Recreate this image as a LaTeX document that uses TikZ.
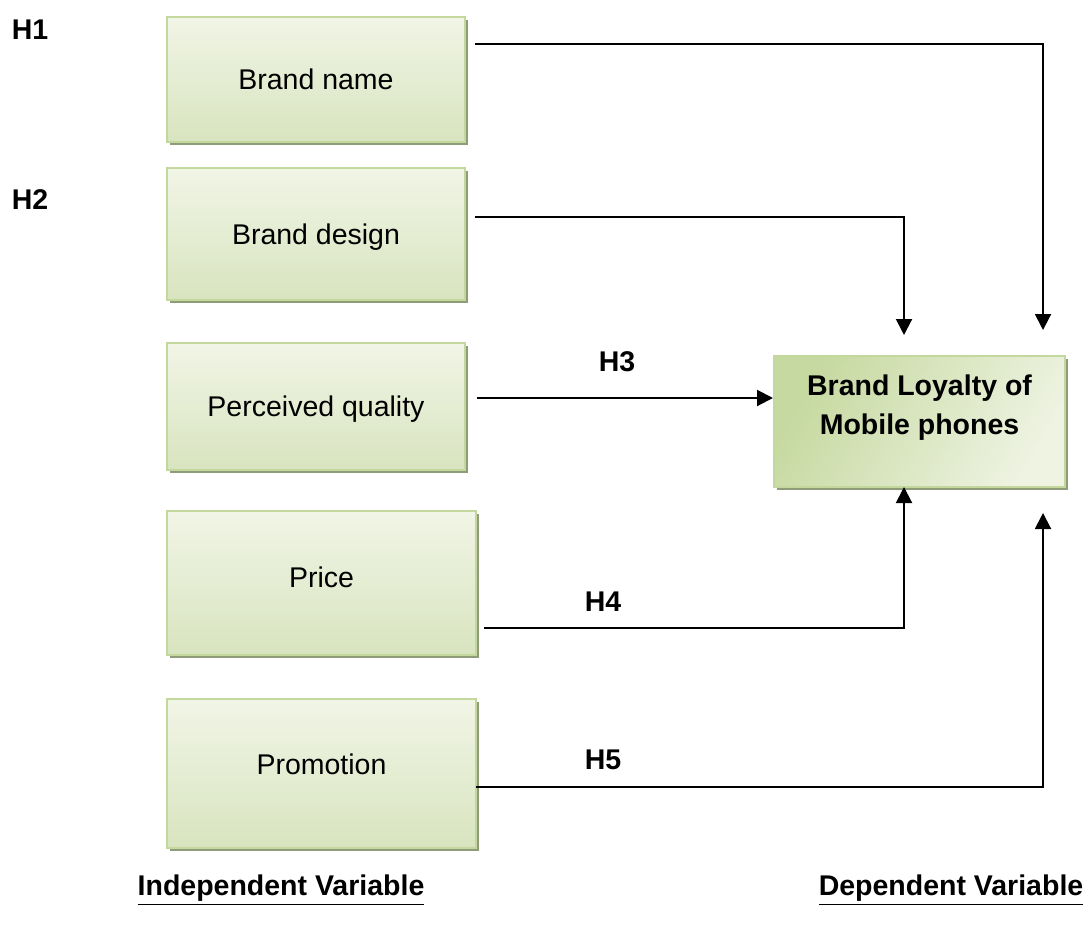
\documentclass[tikz,border=0pt]{standalone}
\usepackage{fontspec}
\setmainfont{Liberation Sans}
\usetikzlibrary{arrows.meta,shadows}
\definecolor{boxtop}{HTML}{F1F5E6}
\definecolor{boxbot}{HTML}{D8E4BF}
\definecolor{boxline}{HTML}{C4D89E}
\definecolor{shadowc}{HTML}{8E9C7A}
\definecolor{tgdark}{HTML}{C6D9A0}
\definecolor{tglight}{HTML}{EEF3E2}
\tikzset{
  varbox/.style={rectangle, draw=boxline, line width=1pt,
    top color=boxtop, bottom color=boxbot,
    drop shadow={shadow xshift=1.6pt, shadow yshift=-1.6pt, fill=shadowc, opacity=1},
    text height=10.5pt, text depth=0.5pt, inner sep=0pt},
  targetbox/.style={rectangle, draw=boxline, line width=1pt,
    shading=axis, left color=tgdark, right color=tglight, shading angle=60,
    drop shadow={shadow xshift=1.6pt, shadow yshift=-1.6pt, fill=shadowc, opacity=1},
    align=center, font=\bfseries\fontsize{14.25}{19.5}\selectfont, inner sep=0pt},
  hlabel/.style={font=\bfseries\fontsize{14.25}{17}\selectfont, inner sep=0pt},
  link/.style={line width=1pt, -{Triangle[length=8pt,width=8pt]}},
}
\begin{document}
\begin{tikzpicture}[x=0.5pt,y=-0.5pt,font=\fontsize{14.25}{17}\selectfont]
\useasboundingbox (0,0) rectangle (1090,931);

% independent variables
\node[varbox, minimum width=149pt, minimum height=62.5pt] (b1) at (316,79.5) {Brand name};
\node[varbox, minimum width=149pt, minimum height=66pt] (b2) at (316,234) {Brand design};
\node[varbox, minimum width=149pt, minimum height=63.5pt] (b3) at (316,406.5) {Perceived quality};
\node[varbox, minimum width=154.5pt, minimum height=72pt, text depth=6.5pt] (b4) at (321.5,583) {Price};
\node[varbox, minimum width=154.5pt, minimum height=74.5pt, text depth=10pt] (b5) at (321.5,773.5) {Promotion};

% dependent variable
\node[targetbox, minimum width=145.5pt, minimum height=65.5pt, text depth=17pt] (t) at (919.5,421.5)
  {Brand Loyalty of\\Mobile phones};

% connector ends
\coordinate (s1) at (475,44);
\coordinate (s2) at (475,217);
\coordinate (s3) at (477,398);
\coordinate (s4) at (484,628);
\coordinate (s5) at (476,787);
\coordinate (e1) at (1043,330);
\coordinate (e2) at (904,335);
\coordinate (e4) at (904,487);
\coordinate (e5) at (1043,513);

% connectors
\draw[link] (s1) -| (e1);
\draw[link] (s2) -| (e2);
\draw[link] (s3) -- (s3 -| t.west);
\draw[link] (s4) -| (e4);
\draw[link] (s5) -| (e5);

% hypothesis labels
\node[hlabel] (h1) at (30,30) {H1};
\node[hlabel] (h2) at (30,200) {H2};
\node[hlabel] (h3) at (617,362) {H3};
\node[hlabel] (h4) at (603,602) {H4};
\node[hlabel] (h5) at (603,760) {H5};

% captions
\node[hlabel] (ci) at (281,890) {\underline{Independent Variable}};
\node[hlabel] (cd) at (951,890) {\underline{Dependent Variable}};
\end{tikzpicture}
\end{document}
